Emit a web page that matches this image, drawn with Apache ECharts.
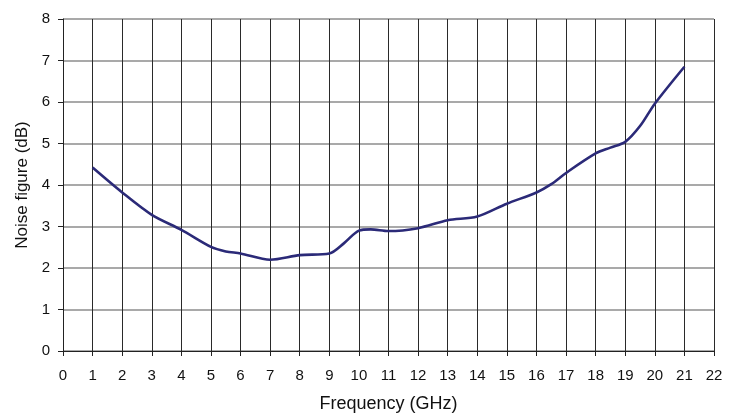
<!DOCTYPE html>
<html>
<head>
<meta charset="utf-8">
<script src="https://cdn.jsdelivr.net/npm/echarts@6/dist/echarts.min.js"></script>
<style>
  html, body { margin: 0; padding: 0; background: #fff; }
  #chart { width: 737px; height: 418px; }
</style>
</head>
<body>
<div id="chart"></div>
<script>
// Noise figure measured across the frequency band
const frequencyGHz = [1, 2, 3, 4, 5, 5.5, 6, 7, 8, 9, 9.5, 10, 10.4, 11, 12, 13, 14, 15, 16, 16.5, 17, 18, 18.5, 19, 19.5, 20, 21];
const noiseFigureDb = [4.42, 3.82, 3.28, 2.92, 2.51, 2.40, 2.35, 2.20, 2.31, 2.35, 2.60, 2.90, 2.93, 2.89, 2.96, 3.15, 3.24, 3.55, 3.82, 4.02, 4.29, 4.76, 4.90, 5.04, 5.42, 5.96, 6.85];

const xMin = 0, xMax = 22, xStep = 1;
const yMin = 0, yMax = 8, yStep = 1;

const points = frequencyGHz.map((f, i) => [f, noiseFigureDb[i]]);

const chart = echarts.init(document.getElementById('chart'));
const font = 'Liberation Sans, Arial, sans-serif';

chart.setOption({
  animation: false,
  backgroundColor: '#ffffff',
  grid: { left: 63, right: 23, top: 19, bottom: 66 },
  xAxis: {
    type: 'value',
    min: xMin, max: xMax, interval: xStep,
    name: 'Frequency (GHz)',
    nameLocation: 'middle',
    nameGap: 44,
    nameTextStyle: { fontFamily: font, fontSize: 18, color: '#111' },
    axisLine: { show: true, lineStyle: { color: '#222', width: 1 } },
    axisTick: { show: true, length: 5, lineStyle: { color: '#222' } },
    axisLabel: { margin: 17, fontFamily: font, fontSize: 15, color: '#111' },
    splitLine: { show: true, lineStyle: { color: '#2a2a2a', width: 1 } }
  },
  yAxis: {
    type: 'value',
    min: yMin, max: yMax, interval: yStep,
    name: 'Noise figure (dB)',
    nameLocation: 'middle',
    nameGap: 31,
    nameTextStyle: { fontFamily: font, fontSize: 17, color: '#111' },
    axisLine: { show: true, lineStyle: { color: '#222', width: 1 } },
    axisTick: { show: true, length: 5, lineStyle: { color: '#222' } },
    axisLabel: { margin: 13, fontFamily: font, fontSize: 15, color: '#111' },
    splitLine: { show: true, lineStyle: { color: '#8c8c8c', width: 1.5 } }
  },
  series: [{
    type: 'line',
    data: points,
    smooth: 0.3,
    showSymbol: false,
    lineStyle: { color: '#2b2a78', width: 2.6 }
  }]
});
</script>
</body>
</html>
